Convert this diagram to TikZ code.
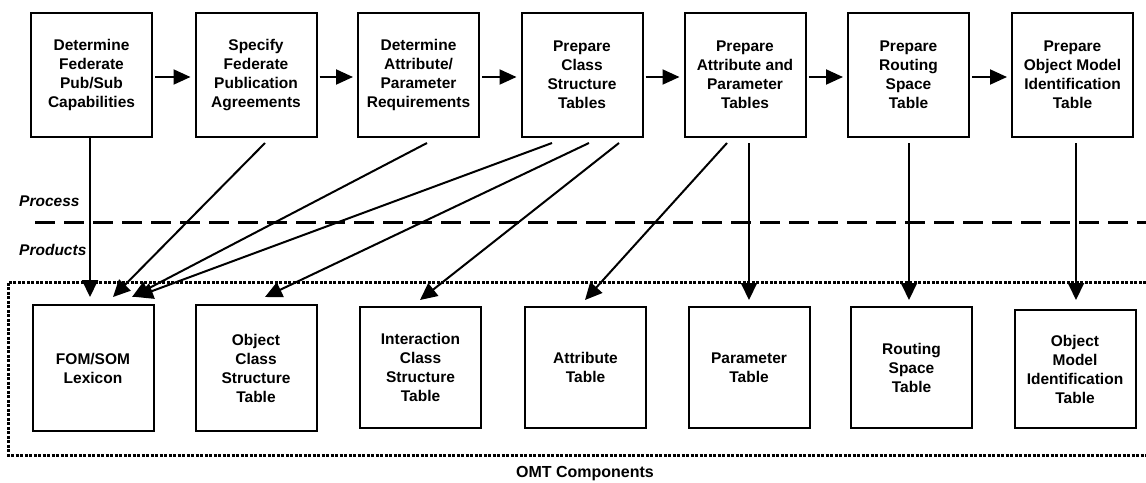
\documentclass[tikz,border=0pt]{standalone}
\usepackage{fontspec}
\setmainfont{Liberation Sans}
\usetikzlibrary{arrows.meta,calc}
\tikzset{
  box/.style={draw, line width=2pt, minimum width=121pt, minimum height=124pt,
    align=center, inner sep=2pt, font=\fontsize{15.5}{19}\selectfont\bfseries},
  flow/.style={line width=2pt, -{Triangle[length=17pt,width=15pt]}},
  link/.style={line width=2pt, -{Triangle[length=17pt,width=16pt]}},
  lbl/.style={font=\fontsize{15.5}{19}\selectfont\bfseries\itshape, anchor=west, inner sep=0pt},
}
\begin{document}
\begin{tikzpicture}[x=1pt,y=-1pt]
\useasboundingbox (0,0) rectangle (1146,482);

% process steps
\node[box] (t1) at (91.5,75) {Determine\\Federate\\Pub/Sub\\Capabilities};
\node[box] (t2) at (256,75) {Specify\\Federate\\Publication\\Agreements};
\node[box] (t3) at (418.5,75) {Determine\\Attribute/\\Parameter\\Requirements};
\node[box] (t4) at (582,75) {Prepare\\Class\\Structure\\Tables};
\node[box] (t5) at (745,75) {Prepare\\Attribute and\\Parameter\\Tables};
\node[box] (t6) at (908.5,75) {Prepare\\Routing\\Space\\Table};
\node[box] (t7) at (1072.5,75) {Prepare\\Object Model\\Identification\\Table};

% products
\node[box, minimum height=126pt] (b1) at (93,368) {FOM/SOM\\Lexicon};
\node[box, minimum height=126pt] (b2) at (256,368) {Object\\Class\\Structure\\Table};
\node[box, minimum height=121pt] (b3) at (420.5,367.5) {Interaction\\Class\\Structure\\Table};
\node[box, minimum height=121pt] (b4) at (585.5,367.5) {Attribute\\Table};
\node[box, minimum height=121pt] (b5) at (749,367.5) {Parameter\\Table};
\node[box, minimum height=121pt] (b6) at (911.5,367.5) {Routing\\Space\\Table};
\node[box, minimum height=118pt] (b7) at (1075,369) {Object\\Model\\Identification\\Table};

% step sequence
\foreach \a/\b in {t1/t2,t2/t3,t3/t4,t4/t5,t5/t6,t6/t7}
  \draw[flow, shorten <=2pt, shorten >=4pt] ($(\a.east)+(0,2)$) -- ($(\b.west)+(0,2)$);

% process / products divider
\draw[line width=3pt, dash pattern=on 20pt off 9pt] (35,222) -- (1146,222);
\node[lbl] (proc) at (19,201) {Process};
\node[lbl] (prod) at (19,250) {Products};

% OMT components frame
\draw[line width=3pt, dash pattern=on 3pt off 1.5pt] (1146,282) -- (8,282) -- (8,455) -- (1146,455);
\node[font=\fontsize{16}{19}\selectfont\bfseries] (omt) at (585,474) {OMT Components};

% steps to products
\draw[link] ($(t1.south)+(-1.5,0)$) -- ($(b1.north)+(-3,-7)$);
\draw[link] ($(t2.south)+(9,5)$) -- ($(b1.north)+(20,-7)$);
\draw[link] ($(t3.south)+(8.5,5)$) -- ($(b1.north)+(39,-7)$);
\draw[link] ($(t4.south)+(-30,5)$) -- ($(b1.north)+(43,-7)$);
\draw[link] ($(t4.south)+(7,5)$) -- ($(b2.north)+(9,-7)$);
\draw[link] ($(t4.south)+(37,5)$) -- ($(b3.north)+(-0.5,-6)$);
\draw[link] ($(t5.south)+(-18,5)$) -- ($(b4.north)+(-0.5,-6)$);
\draw[link] ($(t5.south)+(4,5)$) -- ($(b5.north)+(0,-6)$);
\draw[link] ($(t6.south)+(0.5,5)$) -- ($(b6.north)+(-2.5,-6)$);
\draw[link] ($(t7.south)+(3.5,5)$) -- ($(b7.north)+(1,-9)$);
\end{tikzpicture}
\end{document}
